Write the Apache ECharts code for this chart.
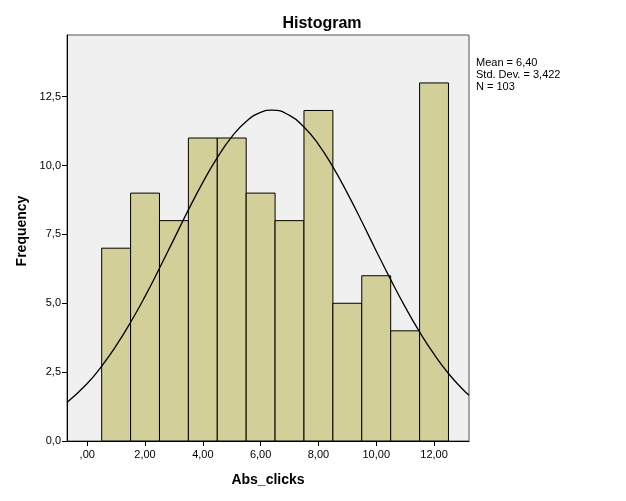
<!DOCTYPE html>
<html><head><meta charset="utf-8">
<script src="https://cdn.jsdelivr.net/npm/echarts@6/dist/echarts.min.js"></script>
<style>html,body{margin:0;padding:0;background:#fff}#c{width:626px;height:501px}</style>
</head><body><div id="c"></div>
<script>
// Bin centres and frequencies
const binCenters = [1, 2, 3, 4, 5, 6, 7, 8, 9, 10, 11, 12];
const frequencies = [7, 9, 8, 11, 11, 9, 8, 12, 5, 6, 4, 13];
const binWidth = 1;
// Normal curve
const curveX = [-0.7, 0, 0.5, 1, 1.5, 2, 2.5, 3, 3.5, 4, 4.5, 5, 5.5, 6, 6.4, 7, 7.5, 8, 8.5, 9, 9.5, 10, 10.5, 11, 11.5, 12, 12.5, 13, 13.21];
const curveY = [1.40, 2.09, 2.72, 3.46, 4.31, 5.25, 6.27, 7.33, 8.39, 9.39, 10.29, 11.04, 11.60, 11.93, 12.01, 11.82, 11.40, 10.77, 9.95, 9.00, 7.97, 6.90, 5.86, 4.87, 3.96, 3.15, 2.45, 1.87, 1.66];
const xTicks = [0, 2, 4, 6, 8, 10, 12];
const yTicks = [0, 2.5, 5, 7.5, 10, 12.5];
const statsLines = ['Mean = 6,40', 'Std. Dev. = 3,422', 'N = 103'];

const fmt = (v, d) => { const s = v.toFixed(d).replace('.', ','); return s.startsWith('0,') ? s.slice(1) : s; };
const font = 'Liberation Sans, Arial, sans-serif';

const chart = echarts.init(document.getElementById('c'));
chart.setOption({
  animation: false,
  backgroundColor: '#fff',
  title: { text: 'Histogram', left: 317, top: 11, textAlign: 'center',
    textStyle: { fontFamily: font, fontSize: 16, fontWeight: 'bold', color: '#000' } },
  grid: { left: 67, top: 35, right: 157, bottom: 60, show: true, backgroundColor: '#f0f0f0', borderColor: '#555', borderWidth: 1 },
  graphic: [
    { type: 'text', left: 476, top: 57, style: { text: statsLines.join('\n'), font: '11px ' + font, fill: '#000', lineHeight: 12 } },
    { type: 'text', x: 22, y: 231, rotation: Math.PI / 2,
      style: { text: 'Frequency', font: 'bold 14px ' + font, fill: '#000', align: 'center', verticalAlign: 'middle' } }
  ],
  xAxis: {
    type: 'value', min: -0.7, max: 13.21,
    name: 'Abs_clicks', nameLocation: 'middle', nameGap: 32,
    nameTextStyle: { fontFamily: font, fontSize: 14, fontWeight: 'bold', color: '#000' },
    axisLine: { show: true, onZero: false, lineStyle: { color: '#000' } },
    axisTick: { show: true, length: 5, lineStyle: { color: '#000' }, customValues: xTicks },
    axisLabel: { customValues: xTicks, fontFamily: font, fontSize: 11, color: '#000', margin: 8, formatter: v => fmt(v, 2) },
    splitLine: { show: false }
  },
  yAxis: {
    type: 'value', min: 0, max: 14.74,
    axisLine: { show: true, onZero: false, lineStyle: { color: '#000' } },
    axisTick: { show: true, length: 5, lineStyle: { color: '#000' }, customValues: yTicks },
    axisLabel: { customValues: yTicks, fontFamily: font, fontSize: 11, color: '#000', margin: 6, formatter: v => v.toFixed(1).replace('.', ',') },
    splitLine: { show: false }
  },
  series: [
    {
      type: 'custom',
      data: binCenters.map((c, i) => [c, frequencies[i]]),
      renderItem: (params, api) => {
        const c = api.value(0), f = api.value(1);
        const p1 = api.coord([c - binWidth / 2, f]);
        const p2 = api.coord([c + binWidth / 2, 0]);
        return { type: 'rect', shape: { x: p1[0], y: p1[1], width: p2[0] - p1[0], height: p2[1] - p1[1] },
          style: { fill: '#d3cf98', stroke: '#000', lineWidth: 1 } };
      },
      z: 2
    },
    {
      type: 'line', data: curveX.map((x, i) => [x, curveY[i]]), smooth: true, symbol: 'none',
      lineStyle: { color: '#000', width: 1.3 }, z: 3
    }
  ]
});
</script></body></html>
